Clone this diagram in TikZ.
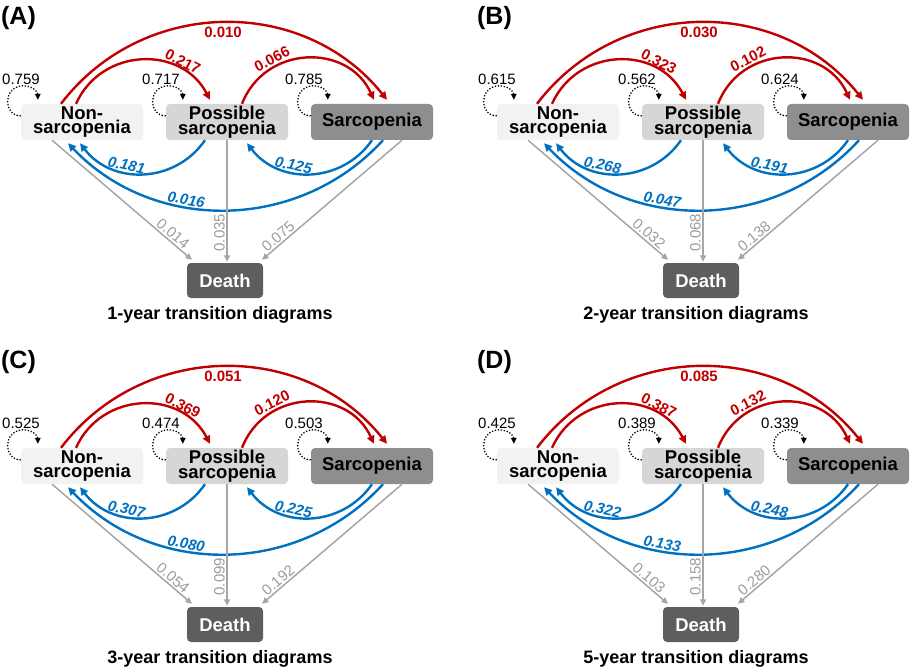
\documentclass[tikz,border=0pt]{standalone}
\usepackage{fontspec}
\setmainfont{Liberation Sans}
\usetikzlibrary{arrows.meta,calc}
\definecolor{cred}{HTML}{C00000}
\definecolor{cblue}{HTML}{0070C0}
\definecolor{cgray}{HTML}{A6A6A6}
\definecolor{cglab}{HTML}{9C9C9C}
\definecolor{cnon}{HTML}{F2F2F2}
\definecolor{cpos}{HTML}{D6D6D6}
\definecolor{csar}{HTML}{8E8E8E}
\definecolor{cdea}{HTML}{5E5E5E}
\newcommand\myloop[1]{\draw[loopline] ($(#1.north west)+(0pt,-12pt)$) .. controls ($(#1.north west)+(-18pt,-12pt)$) and ($(#1.north west)+(-18pt,17pt)$) .. ($(#1.north west)+(2pt,18pt)$) .. controls ($(#1.north west)+(12pt,18pt)$) and ($(#1.north west)+(17pt,12pt)$) .. ($(#1.north west)+(17pt,4pt)$);}
\begin{document}
\begin{tikzpicture}[x=1pt,y=-1pt,
  box/.style={rectangle, rounded corners=4pt, minimum width=122pt, minimum height=36pt, inner sep=0pt, align=center, font=\bfseries\fontsize{18.5}{13.5}\selectfont, text=black},
  dbox/.style={box, minimum width=76pt, minimum height=35pt, fill=cdea, text=white},
  val/.style={font=\fontsize{15}{15}\selectfont, inner sep=0pt},
  capt/.style={font=\bfseries\fontsize{18}{18}\selectfont, inner sep=0pt},
  letter/.style={font=\bfseries\fontsize{25}{25}\selectfont, inner sep=0pt},
  redarr/.style={draw=cred, line width=2.4pt, -{Triangle[length=8pt,width=7.5pt]}},
  bluearr/.style={draw=cblue, line width=2.4pt, -{Triangle[length=8pt,width=7.5pt]}},
  gline/.style={draw=cgray, line width=1.5pt, -{Triangle[length=6.5pt,width=6pt]}},
  loopline/.style={draw=black, line width=1.3pt, dash pattern=on 1.3pt off 1.7pt, -{Triangle[length=6pt,width=5.5pt]}},
  rlab/.style={text=cred, font=\bfseries\fontsize{15}{15}\selectfont, inner sep=1.5pt},
  blab/.style={text=cblue, font=\bfseries\itshape\fontsize{15}{15}\selectfont, inner sep=0.5pt},
  glab/.style={text=cglab, font=\fontsize{15}{15}\selectfont, inner sep=1.5pt}
]
\useasboundingbox (0,0) rectangle (912,671);
\foreach \px/\py/\pl/\yr/\sN/\sP/\sS/\rNP/\rPS/\rNS/\bPN/\bSP/\bSN/\dN/\dP/\dS in {
 0/0/A/1/0.759/0.717/0.785/0.217/0.066/0.010/0.181/0.125/0.016/0.014/0.035/0.075,
 476/0/B/2/0.615/0.562/0.624/0.323/0.102/0.030/0.268/0.191/0.047/0.032/0.068/0.138,
 0/344/C/3/0.525/0.474/0.503/0.369/0.120/0.051/0.307/0.225/0.080/0.054/0.099/0.192,
 476/344/D/5/0.425/0.389/0.339/0.387/0.132/0.085/0.322/0.248/0.133/0.103/0.158/0.280}
{
  \node[letter] (let\pl) at (18.5+\px,18+\py) {(\pl)};
  \node[box, fill=cnon] (non\pl) at (82+\px,122+\py) {Non-\\sarcopenia};
  \node[box, fill=cpos] (pos\pl) at (227+\px,122+\py) {Possible\\sarcopenia};
  \node[box, fill=csar] (sar\pl) at (372+\px,122+\py) {Sarcopenia};
  \node[dbox] (dea\pl) at (225+\px,280.5+\py) {Death};
  \node[capt] (cap\pl) at (220+\px,315+\py) {\yr-year transition diagrams};
  \node[val] (vN\pl) at (21+\px,79+\py) {\sN};
  \node[val] (vP\pl) at (161+\px,79+\py) {\sP};
  \node[val] (vS\pl) at (304+\px,79+\py) {\sS};
  \myloop{non\pl}
  \myloop{pos\pl}
  \myloop{sar\pl}
  % red
  \draw[redarr] ([xshift=-21pt]non\pl.north) to[bend left=52, looseness=1.05]
     node[rlab, pos=0.5, below=2pt] {\rNS} ([xshift=15pt,yshift=4pt]sar\pl.north);
  \draw[redarr] ([xshift=-6pt]non\pl.north) to[bend left=64, looseness=1.18]
     node[rlab, pos=0.74, sloped, above] {\rNP} ([xshift=-17pt,yshift=4pt]pos\pl.north);
  \draw[redarr] ([xshift=15pt]pos\pl.north) to[bend left=67, looseness=1.22]
     node[rlab, pos=0.30, sloped, above] {\rPS} ([xshift=2pt,yshift=4pt]sar\pl.north);
  % blue
  \draw[bluearr] ([xshift=-22pt]pos\pl.south) to[bend left=54, looseness=1.08]
     node[blab, pos=0.63, sloped, above] {\bPN} ([xshift=-2pt,yshift=-3pt]non\pl.south);
  \draw[bluearr] ([xshift=0pt]sar\pl.south) to[bend left=54, looseness=1.08]
     node[blab, pos=0.63, sloped, above] {\bSP} ([xshift=20pt,yshift=-3pt]pos\pl.south);
  \draw[bluearr] ([xshift=11pt]sar\pl.south) to[bend left=47, looseness=1.01]
     node[blab, pos=0.62, sloped, above] {\bSN} ([xshift=-14pt,yshift=-3pt]non\pl.south);
  % gray
  \draw[gline] ([xshift=-30pt]non\pl.south) -- ([xshift=-33pt,yshift=3pt]dea\pl.north)
     node[glab, pos=0.83, sloped, above] {\dN};
  \draw[gline] (pos\pl.south) -- ([yshift=1pt]pos\pl.south |- dea\pl.north)
     node[glab, pos=0.76, rotate=90, anchor=south] {\dP};
  \draw[gline] ([xshift=30pt]sar\pl.south) -- ([xshift=37pt,yshift=3pt]dea\pl.north)
     node[glab, pos=0.85, sloped, above] {\dS};
}
\end{tikzpicture}
\end{document}
